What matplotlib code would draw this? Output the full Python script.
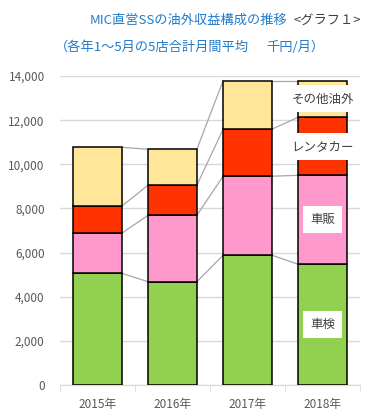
import numpy as np
import matplotlib.pyplot as plt

plt.rcParams['font.family'] = ['Noto Sans CJK JP', 'DejaVu Sans']

# データ（千円/月）
years = ['2015年', '2016年', '2017年', '2018年']
shaken = [5060, 4680, 5880, 5470]     # 車検
shahan = [1820, 3010, 3580, 4030]     # 車販
rental = [1230, 1360, 2130, 2630]     # レンタカー
sonota = [2660, 1630, 2200, 1660]     # その他油外
series_names = ['車検', '車販', 'レンタカー', 'その他油外']
colors = ['#92d050', '#ff99cc', '#ff3300', '#ffe699']

fig = plt.figure(figsize=(3.8, 4.19), dpi=100)
ax = fig.add_axes([60/380, 1-385/419, 300/380, 309/419])

x = np.arange(len(years))
w = 0.65
bottom = np.zeros(len(years))
tops = []
for vals, c in zip([shaken, shahan, rental, sonota], colors):
    v = np.array(vals, dtype=float)
    ax.bar(x, v, w, bottom=bottom, color=c, edgecolor='black', linewidth=1.1, zorder=3)
    bottom = bottom + v
    tops.append(bottom.copy())

# 系列線
for t in tops:
    for i in range(len(years) - 1):
        ax.plot([x[i] + w/2, x[i+1] - w/2], [t[i], t[i+1]], color='#a6a6a6', lw=0.9, zorder=2)

# ラベル（2018年の棒の中）
last = len(years) - 1
lows = [0] + [t[last] for t in tops[:-1]]
for name, lo, t in zip(series_names, lows, tops):
    ax.text(x[last], (lo + t[last]) / 2, name, ha='center', va='center', fontsize=9,
            color='#404040', zorder=5,
            bbox=dict(facecolor='white', edgecolor='none', pad=5))

ax.set_xlim(-0.5, len(years) - 0.5)
ax.set_ylim(0, 14000)
ax.set_yticks(np.arange(0, 14001, 2000))
ax.set_yticklabels([f'{v:,}' for v in range(0, 14001, 2000)])
ax.yaxis.grid(True, color='#d9d9d9', lw=1, zorder=0)
ax.set_axisbelow(True)
for s in ['top', 'right', 'left']:
    ax.spines[s].set_visible(False)
ax.spines['bottom'].set_color('#d9d9d9')
ax.tick_params(axis='y', length=0, labelsize=8.5, labelcolor='#595959', pad=11)
ax.set_xticks(x)
ax.set_xticklabels(years)
ax.tick_params(axis='x', length=0, labelsize=8.5, labelcolor='#595959', pad=9)
ax.set_xticks(np.arange(-0.5, len(years), 1), minor=True)
ax.tick_params(axis='x', which='minor', length=5, color='#d9d9d9')

blue = '#1f7acc'
fig.text(90/380, 1-20/419, 'MIC直営SSの油外収益構成の推移', color=blue, fontsize=9.5, ha='left', va='center')
fig.text(293/380, 1-20/419, '<グラフ１>', color='#404040', fontsize=9.5, ha='left', va='center')
fig.text(55/380, 1-47/419, '（各年1～5月の5店合計月間平均', color=blue, fontsize=9.5, ha='left', va='center')
fig.text(266/380, 1-47/419, '千円/月）', color=blue, fontsize=9.5, ha='left', va='center')

fig.savefig('out.png', dpi=100)
